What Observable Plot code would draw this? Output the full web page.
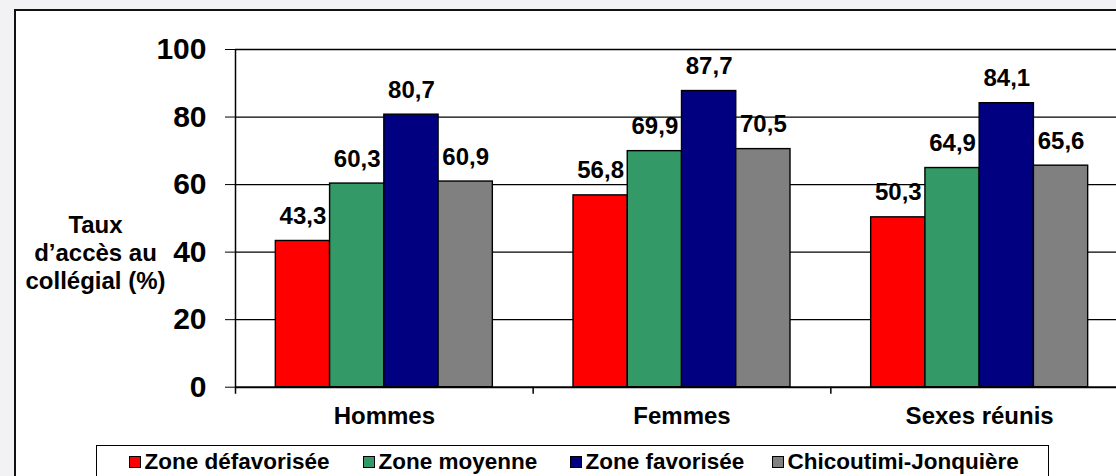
<!DOCTYPE html>
<html>
<head>
<meta charset="utf-8">
<script src="https://cdn.jsdelivr.net/npm/d3@7"></script>
<script src="https://cdn.jsdelivr.net/npm/@observablehq/plot@0.6"></script>
<style>
  html, body { margin: 0; padding: 0; overflow: hidden; width: 1116px; height: 476px; background: #f2f2f4; }
  #frame { position: absolute; left: 14px; top: 9px; width: 1300px; height: 700px; border: 2px solid #111; background: #fff; }
  #chart { position: absolute; left: 0; top: 0; width: 1140px; }
  #chart svg { max-width: none !important; background: transparent !important; display: block; }
  #legend { position: relative; margin-left: 96px; width: 953px; height: 60px; border: 1.5px solid #000; box-sizing: border-box; background: #fff;
            font-family: Arial, "Liberation Sans", sans-serif; font-weight: bold; font-size: 22.5px; color: #000; }
  .item { position: absolute; top: 5px; display: flex; align-items: center; line-height: 22px; white-space: nowrap; }
  .sw { width: 10px; height: 10px; border: 1px solid #000; margin-right: 4px; }
</style>
</head>
<body>
<div id="frame"></div>
<div id="chart"></div>
<script>
const groups = ["Hommes", "Femmes", "Sexes réunis"];
const zones = ["Zone défavorisée", "Zone moyenne", "Zone favorisée", "Chicoutimi-Jonquière"];
const zoneDefavorisee = [43.3, 56.8, 50.3];
const zoneMoyenne = [60.3, 69.9, 64.9];
const zoneFavorisee = [80.7, 87.7, 84.1];
const chicoutimiJonquiere = [60.9, 70.5, 65.6];
const zoneColors = ["#ff0000", "#339966", "#000080", "#808080"];
const yTicks = [0, 20, 40, 60, 80, 100];
const yTitle = "Taux\nd’accès au\ncollégial (%)";

const series = [zoneDefavorisee, zoneMoyenne, zoneFavorisee, chicoutimiJonquiere];
const rows = groups.flatMap((g, gi) => zones.map((z, zi) => ({group: g, zone: z, gi, zi, value: series[zi][gi]})));

const groupFill = 0.729;            // share of each category band taken by its bars
const bw = groupFill / zones.length;
const pad = (1 - groupFill) / 2;
const fmt = v => v.toFixed(1).replace(".", ",");
const font = "Arial, 'Liberation Sans', sans-serif";

const chart = Plot.plot({
  width: 1140,
  height: 445,
  marginLeft: 235,
  marginRight: 12,
  marginTop: 49,
  marginBottom: 58.3,
  style: {fontFamily: font, fontSize: "30px", fontWeight: "bold", color: "#000", background: "transparent", maxWidth: "none", overflow: "visible"},
  x: {type: "linear", domain: [0, groups.length], axis: null},
  y: {domain: [0, 100], ticks: yTicks, tickSize: 10, tickPadding: 19, tickFormat: d => String(d), label: null},
  color: {domain: zones, range: zoneColors},
  marks: [
    Plot.ruleY(yTicks.filter(d => d > 0), {stroke: "#000", strokeWidth: 1.3}),
    Plot.rectY(rows, {
      x1: d => d.gi + pad + d.zi * bw,
      x2: d => d.gi + pad + (d.zi + 1) * bw,
      y: "value",
      fill: "zone",
      stroke: "#000",
      strokeWidth: 1.4
    }),
    Plot.ruleY([0], {stroke: "#000", strokeWidth: 2}),
    Plot.ruleX([0], {stroke: "#000", strokeWidth: 1.5, insetBottom: -7}),
    Plot.ruleX(d3.range(1, groups.length + 1), {y1: 0, y2: 0, stroke: "#000", strokeWidth: 1.5, insetBottom: -7}),
    Plot.text(rows, {
      x: d => d.gi + pad + (d.zi + 0.5) * bw,
      y: "value",
      text: d => fmt(d.value),
      dy: -17,
      lineAnchor: "bottom",
      fontSize: 24,
      fontWeight: "bold",
      fill: "#000"
    }),
    Plot.text(groups, {
      x: (d, i) => i + 0.5,
      frameAnchor: "bottom",
      text: d => d,
      lineAnchor: "top",
      dy: 20,
      fontSize: 24,
      fontWeight: "bold",
      fill: "#000"
    }),
    Plot.text([yTitle], {
      frameAnchor: "left",
      y: 40,
      text: d => d,
      dx: -140,
      textAnchor: "middle",
      lineAnchor: "middle",
      lineHeight: 28 / 24,
      fontSize: 24,
      fontWeight: "bold",
      fill: "#000"
    })
  ]
});
document.getElementById("chart").appendChild(chart);

// Legend
const legend = document.createElement("div");
legend.id = "legend";
const itemLeft = [31.5, 265.5, 472.5, 674.5];
zones.forEach((z, i) => {
  const it = document.createElement("div");
  it.className = "item";
  it.style.left = itemLeft[i] + "px";
  const sw = document.createElement("span");
  sw.className = "sw";
  sw.style.background = zoneColors[i];
  const tx = document.createElement("span");
  tx.textContent = z;
  it.appendChild(sw);
  it.appendChild(tx);
  legend.appendChild(it);
});
document.getElementById("chart").appendChild(legend);
</script>
</body>
</html>
